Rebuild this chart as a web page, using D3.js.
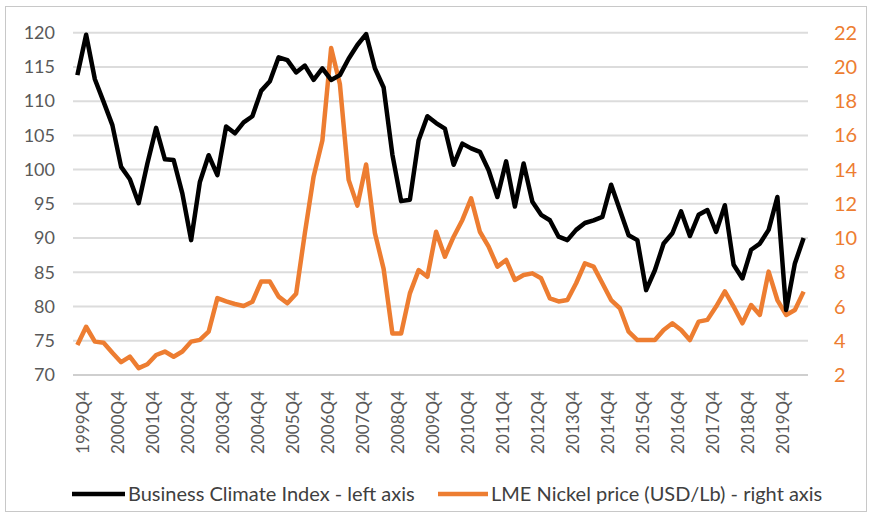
<!DOCTYPE html>
<html>
<head>
<meta charset="utf-8">
<script src="https://cdn.jsdelivr.net/npm/d3@7"></script>
<style>
  body { margin: 0; background: #fff; }
  text { font-family: Lato, "Open Sans", sans-serif; }
</style>
</head>
<body>
<svg id="chart"></svg>
<script>
// quarterly categories, 1999Q4 .. 2020Q3
const firstYear = 1999;
const quarters = [];
for (let i = 0; i < 84; i++) {
  const q = (3 + i) % 4 + 1;
  const y = firstYear + Math.floor((3 + i) / 4);
  quarters.push(y + "Q" + q);
}

// Business Climate Index (left axis)
const bciValues = [
  113.8, 119.7, 113.2, 109.9, 106.5, 100.4, 98.6, 95.1, 100.9, 106.1,
  101.5, 101.4, 96.5, 89.7, 98.2, 102.1, 99.2, 106.3, 105.3, 106.9,
  107.8, 111.5, 112.9, 116.4, 116.0, 114.2, 115.2, 113.1, 114.8, 113.1,
  113.8, 116.2, 118.2, 119.8, 114.8, 112.0, 102.2, 95.4, 95.6, 104.3,
  107.8, 106.8, 106.0, 100.7, 103.8, 103.1, 102.6, 99.9, 96.0, 101.2,
  94.6, 100.9, 95.3, 93.4, 92.6, 90.2, 89.7, 91.2, 92.2, 92.6,
  93.1, 97.8, 94.1, 90.4, 89.7, 82.4, 85.3, 89.2, 90.7, 93.9,
  90.3, 93.4, 94.1, 90.9, 94.8, 86.1, 84.1, 88.3, 89.2, 91.2,
  96.0, 79.5, 86.3, 90.0
];

// LME Nickel price USD/Lb (right axis)
const nickelValues = [
  3.75, 4.82, 3.95, 3.89, 3.3, 2.75, 3.07, 2.4, 2.63, 3.17,
  3.37, 3.07, 3.37, 3.95, 4.05, 4.53, 6.49, 6.3, 6.15, 6.03,
  6.28, 7.46, 7.46, 6.58, 6.19, 6.75, 10.3, 13.6, 15.7, 21.1,
  19.0, 13.4, 11.9, 14.3, 10.3, 8.2, 4.43, 4.43, 6.77, 8.13,
  7.74, 10.37, 8.91, 10.08, 11.06, 12.32, 10.37, 9.5, 8.33, 8.72,
  7.55, 7.84, 7.94, 7.65, 6.48, 6.3, 6.38, 7.36, 8.52, 8.33,
  7.36, 6.38, 5.9, 4.53, 4.04, 4.04, 4.04, 4.63, 5.02, 4.63,
  4.04, 5.12, 5.22, 6.0, 6.88, 6.0, 5.02, 6.09, 5.51, 8.04,
  6.38, 5.51, 5.8, 6.87
];

const leftTicks = [70, 75, 80, 85, 90, 95, 100, 105, 110, 115, 120];
const rightTicks = [2, 4, 6, 8, 10, 12, 14, 16, 18, 20, 22];
const seriesNames = [
  "Business Climate Index - left axis",
  "LME Nickel price (USD/Lb) - right axis"
];
const seriesColors = ["#000000", "#ED7D31"];

const width = 873, height = 516;
const plot = { left: 73, right: 808, top: 32.7, bottom: 375 };

const svg = d3.select("#chart").attr("width", width).attr("height", height);

// outer frame
svg.append("rect")
  .attr("x", 5.5).attr("y", 6.5)
  .attr("width", 861).attr("height", 505)
  .attr("fill", "#fff")
  .attr("stroke", "#c8c8c8");

const x = d3.scalePoint()
  .domain(quarters)
  .range([plot.left, plot.right])
  .padding(0.5);

const yLeft = d3.scaleLinear().domain([70, 120]).range([plot.bottom, plot.top]);
const yRight = d3.scaleLinear().domain([2, 22]).range([plot.bottom, plot.top]);

// gridlines
svg.append("g")
  .selectAll("line")
  .data(leftTicks)
  .join("line")
  .attr("x1", plot.left).attr("x2", plot.right)
  .attr("y1", d => yLeft(d)).attr("y2", d => yLeft(d))
  .attr("stroke", d => d === 70 ? "#cfcfcf" : "#dcdcdc")
  .attr("stroke-width", 2);

// left axis labels
svg.append("g")
  .selectAll("text")
  .data(leftTicks)
  .join("text")
  .attr("x", 55)
  .attr("y", d => yLeft(d))
  .attr("dy", "0.35em")
  .attr("text-anchor", "end")
  .attr("fill", "#595959")
  .style("font-size", "18px")
  .text(d => d);

// right axis labels
svg.append("g")
  .selectAll("text")
  .data(rightTicks)
  .join("text")
  .attr("x", 834)
  .attr("y", d => yRight(d))
  .attr("dy", "0.35em")
  .attr("text-anchor", "start")
  .attr("fill", "#ED7D31")
  .style("font-size", "20px")
  .text(d => d);

// x labels, every 4th quarter
const xLabels = quarters.filter((d, i) => i % 4 === 0);
svg.append("g")
  .selectAll("text")
  .data(xLabels)
  .join("text")
  .attr("transform", d => "translate(" + (x(d) + 6) + "," + (plot.bottom + 16) + ") rotate(-90)")
  .attr("dy", "0.35em")
  .attr("text-anchor", "end")
  .attr("fill", "#595959")
  .style("font-size", "17px")
  .text(d => d);

// lines
const bciLine = d3.line()
  .x((d, i) => x(quarters[i]))
  .y(d => yLeft(d));
const nickelLine = d3.line()
  .x((d, i) => x(quarters[i]))
  .y(d => yRight(d));

svg.append("path")
  .datum(nickelValues)
  .attr("d", nickelLine)
  .attr("fill", "none")
  .attr("stroke", seriesColors[1])
  .attr("stroke-width", 4.5)
  .attr("stroke-linejoin", "round");

svg.append("path")
  .datum(bciValues)
  .attr("d", bciLine)
  .attr("fill", "none")
  .attr("stroke", seriesColors[0])
  .attr("stroke-width", 4.5)
  .attr("stroke-linejoin", "round");

// legend
const legendItems = [
  { x1: 72, x2: 125, tx: 128 },
  { x1: 438, x2: 488, tx: 491 }
];
const legend = svg.append("g");
legendItems.forEach((d, i) => {
  legend.append("line")
    .attr("x1", d.x1).attr("x2", d.x2)
    .attr("y1", 494).attr("y2", 494)
    .attr("stroke", seriesColors[i])
    .attr("stroke-width", 4.5);
  legend.append("text")
    .attr("x", d.tx).attr("y", 494)
    .attr("dy", "0.35em")
    .attr("fill", "#404040")
    .style("font-size", "20px")
    .text(seriesNames[i]);
});
</script>
</body>
</html>
